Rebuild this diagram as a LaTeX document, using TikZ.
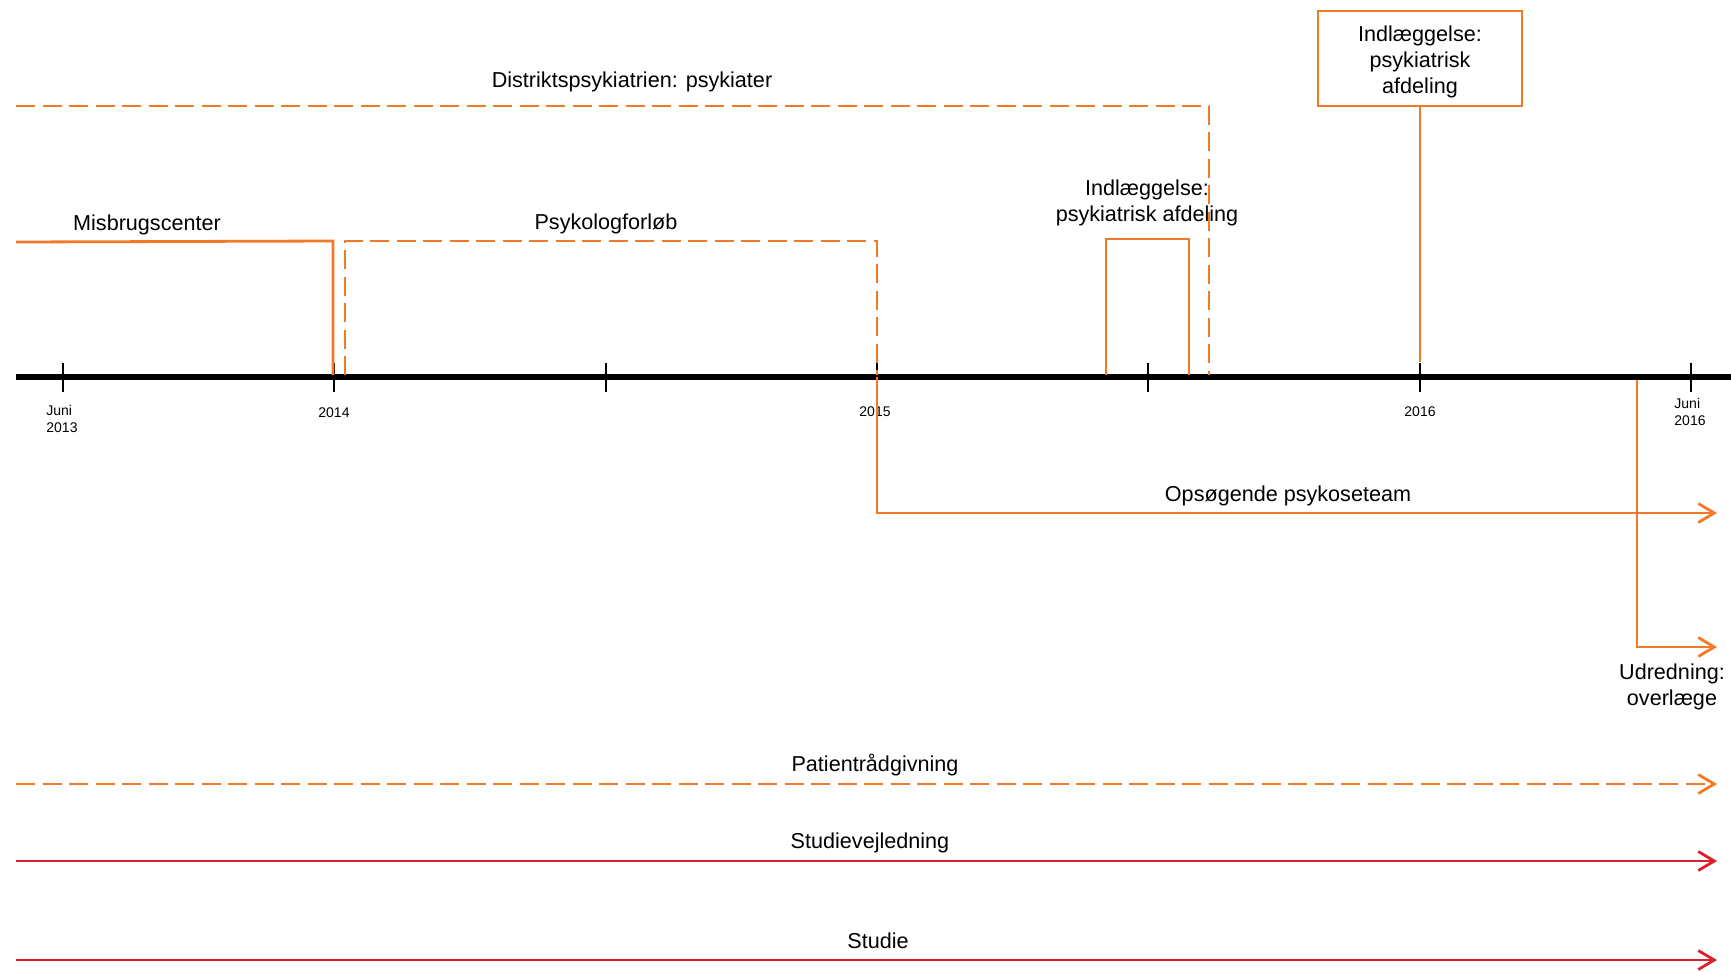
\documentclass[tikz,border=0pt]{standalone}
\usepackage{fontspec}
\setmainfont{Liberation Sans}
\usetikzlibrary{arrows.meta}
\definecolor{lineorange}{RGB}{242,121,40}
\definecolor{linered}{RGB}{218,32,40}
\begin{document}
\begin{tikzpicture}[x=0.5pt,y=-0.5pt,
  track/.style={draw=lineorange, line width=1.4pt},
  dashtrack/.style={track, dash pattern=on 9.5pt off 3.75pt},
  redtrack/.style={draw=linered, line width=1.4pt},
  barb/.style={-{Straight Barb[length=8pt,width=9.5pt]}},
  lbl/.style={font=\fontsize{10.8}{13}\selectfont, inner sep=0pt, align=center},
  datelbl/.style={font=\fontsize{7}{8.6}\selectfont, inner sep=0pt, align=left},
  axisline/.style={draw=black, line width=3pt},
  tickline/.style={draw=black, line width=0.8pt},
  stayboxstyle/.style={draw=lineorange, line width=1.4pt, minimum width=102pt,
    minimum height=47.5pt, inner sep=0pt, align=center,
    font=\fontsize{10.8}{13}\selectfont}]
\useasboundingbox (0,0) rectangle (1731,971);

% time axis
\coordinate (axL) at (16,377);
\coordinate (axR) at (1731,377);
\draw[axisline] (axL) -- (axR);
\foreach \i/\x in {1/63,2/334,3/606,4/877,5/1148,6/1420,7/1691}{
  \coordinate (ta\i) at (\x,363);
  \coordinate (tb\i) at (\x,392);
  \draw[tickline] (ta\i) -- (tb\i);
}
\node[datelbl] (d1) at (62,419) {Juni\\2013};
\node[datelbl] (d2) at (334,413) {2014};
\node[datelbl] (d4) at (875,412) {2015};
\node[datelbl] (d6) at (1420,412) {2016};
\node[datelbl] (d7) at (1690,412) {Juni\\2016};

% Misbrugscenter
\coordinate (mc0) at (16,242);
\coordinate (mc1) at (333,241);
\coordinate (mc2) at (333,375);
\draw[track] (mc0) -- (mc1) -- (mc2);
\node[lbl] (mctext) at (147,225) {Misbrugscenter};

% Psykologforloeb
\coordinate (ps0) at (345,375);
\coordinate (ps1) at (345,241);
\coordinate (ps2) at (877,241);
\coordinate (ps3) at (877,375);
\draw[dashtrack] (ps0) -- (ps1) -- (ps2) -- (ps3);
\node[lbl] (pstext) at (606,224) {Psykologforløb};

% Distriktspsykiatrien
\coordinate (dp0) at (16,106);
\coordinate (dp1) at (1209,106);
\coordinate (dp2) at (1209,375);
\draw[dashtrack] (dp0) -- (dp1) -- (dp2);
\node[lbl] (dptext) at (632,82) {Distriktspsykiatrien: psykiater};

% first admission
\coordinate (ad0) at (1106,375);
\coordinate (ad1) at (1106,239);
\coordinate (ad2) at (1189,239);
\coordinate (ad3) at (1189,375);
\draw[track] (ad0) -- (ad1) -- (ad2) -- (ad3);
\node[lbl] (adtext) at (1147,203) {Indlæggelse:\\psykiatrisk afdeling};

% second admission
\node[stayboxstyle] (stay) at (1420,58.5) {};
\node[lbl] (staytext) at (1420,61.5) {Indlæggelse:\\psykiatrisk\\afdeling};
\coordinate (stayend) at (1420,362);
\draw[track] (stay.south) -- (stayend);

% Opsoegende psykoseteam
\coordinate (op0) at (877,377);
\coordinate (op1) at (877,513);
\coordinate (op2) at (1717,513);
\draw[track,barb] (op0) -- (op1) -- (op2);
\node[lbl] (optext) at (1288,496) {Opsøgende psykoseteam};

% Udredning
\coordinate (ud0) at (1637,380);
\coordinate (ud1) at (1637,647);
\coordinate (ud2) at (1717,647);
\draw[track,barb] (ud0) -- (ud1) -- (ud2);
\node[lbl] (udtext) at (1672,687) {Udredning:\\overlæge};

% Patientraadgivning
\coordinate (pr0) at (16,784);
\coordinate (pr1) at (1717,784);
\draw[dashtrack,barb] (pr0) -- (pr1);
\node[lbl] (prtext) at (875,765) {Patientrådgivning};

% Studievejledning
\coordinate (sv0) at (16,861);
\coordinate (sv1) at (1717,861);
\draw[redtrack,barb] (sv0) -- (sv1);
\node[lbl] (svtext) at (870,843) {Studievejledning};

% Studie
\coordinate (st0) at (16,960);
\coordinate (st1) at (1717,960);
\draw[redtrack,barb] (st0) -- (st1);
\node[lbl] (sttext) at (878,941) {Studie};
\end{tikzpicture}
\end{document}
